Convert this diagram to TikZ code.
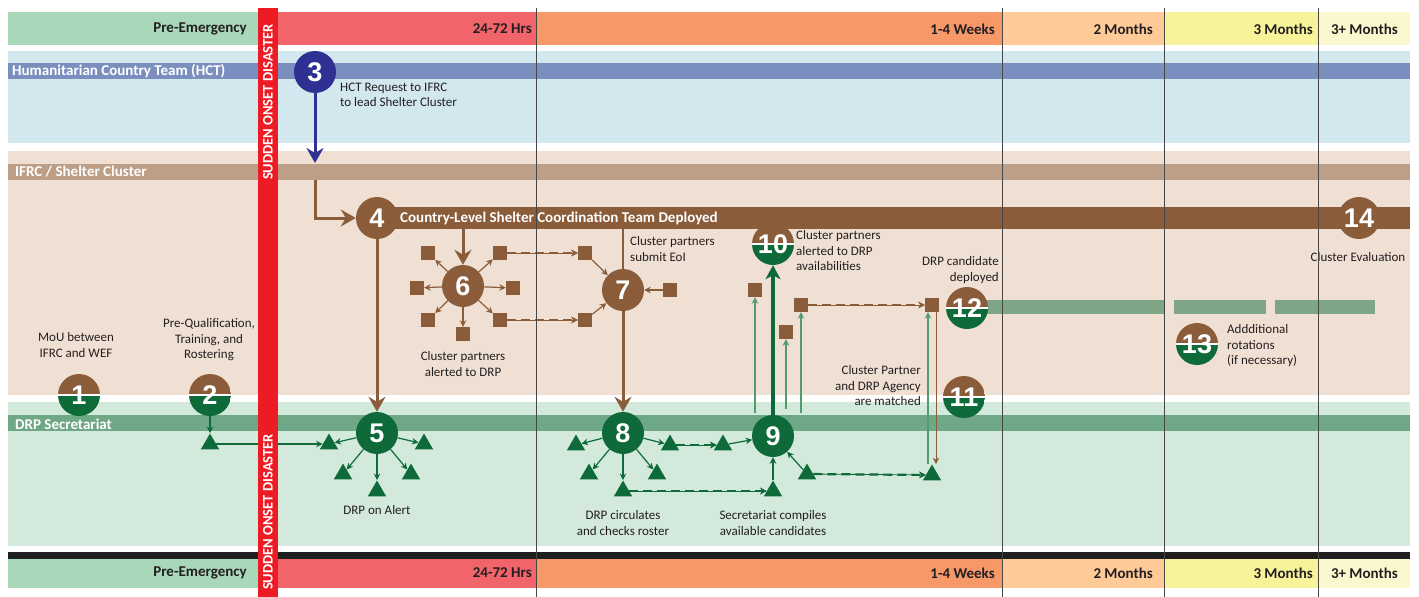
\documentclass[tikz,border=0pt]{standalone}
\usepackage{fontspec}
\setmainfont{Carlito}
\newfontfamily\numfont{Liberation Sans}
\usepackage{tikz}
\usetikzlibrary{positioning,arrows.meta,shapes.geometric,calc}
\definecolor{preem}{RGB}{168,216,185}
\definecolor{hrsred}{RGB}{240,100,106}
\definecolor{weeksor}{RGB}{247,152,104}
\definecolor{twomon}{RGB}{253,202,152}
\definecolor{threemon}{RGB}{247,243,154}
\definecolor{threeplus}{RGB}{251,248,208}
\definecolor{onsetred}{RGB}{237,28,36}
\definecolor{hctbg}{RGB}{211,231,239}
\definecolor{hctband}{RGB}{123,143,191}
\definecolor{ifrcbg}{RGB}{240,224,211}
\definecolor{ifrcband}{RGB}{189,159,135}
\definecolor{drpbg}{RGB}{210,233,220}
\definecolor{drpband}{RGB}{111,168,135}
\definecolor{brownc}{RGB}{138,92,58}
\definecolor{greenc}{RGB}{14,106,56}
\definecolor{bluec}{RGB}{46,49,146}
\definecolor{rotgreen}{RGB}{125,165,134}
\definecolor{lightg}{RGB}{80,156,110}
\definecolor{txtdark}{RGB}{35,31,32}
\definecolor{divider}{RGB}{70,70,70}
\tikzset{
  lanelabel/.style = {font=\fontsize{15}{18}\selectfont\bfseries, text=white, anchor=west, inner sep=0pt},
  hdrlabel/.style  = {font=\fontsize{15}{18}\selectfont\bfseries, text=txtdark, anchor=east, inner sep=0pt},
  onsetlabel/.style= {font=\fontsize{14.5}{17}\selectfont\bfseries, text=white, rotate=90, inner sep=0pt},
  numnode/.style   = {circle, minimum size=42pt, inner sep=0pt, text=white, font=\numfont\fontsize{27}{27}\selectfont\bfseries},
  brownnum/.style  = {numnode, fill=brownc},
  greennum/.style  = {numnode, fill=greenc},
  bluenum/.style   = {numnode, fill=bluec},
  splitnum/.style  = {numnode, path picture={
      \fill[brownc] (path picture bounding box.north west) rectangle (path picture bounding box.east);
      \fill[greenc] (path picture bounding box.west) rectangle (path picture bounding box.south east);
      \draw[white, line width=1.3pt] (path picture bounding box.west) -- (path picture bounding box.east);}},
  partner/.style   = {rectangle, fill=brownc, minimum size=14pt, inner sep=0pt},
  member/.style    = {regular polygon, regular polygon sides=3, fill=greenc, minimum size=21pt, inner sep=0pt},
  note/.style      = {font=\fontsize{13}{15.5}\selectfont, text=txtdark, align=center, inner sep=0pt},
  bflow/.style     = {-{Stealth[length=15pt,width=17pt,inset=5pt]}, line width=3pt, draw=brownc},
  blueflow/.style  = {-{Stealth[length=15pt,width=17pt,inset=5pt]}, line width=3pt, draw=bluec},
  gbig/.style      = {-{Stealth[length=14pt,width=15pt,inset=4pt]}, line width=4pt, draw=greenc},
  bthin/.style     = {-{Stealth[length=6.5pt,width=6.5pt]}, line width=1.2pt, draw=brownc},
  gthin/.style     = {-{Stealth[length=6.5pt,width=6.5pt]}, line width=1.2pt, draw=greenc},
  lgthin/.style    = {-{Stealth[length=6.5pt,width=6.5pt]}, line width=1.2pt, draw=lightg},
  bdash/.style     = {bthin, line width=2.2pt, dash pattern=on 9pt off 5pt, preaction={draw=brownc, line width=0.8pt, solid}},
  gdash/.style     = {gthin, line width=2.2pt, dash pattern=on 9pt off 5pt, preaction={draw=greenc, line width=0.8pt, solid}},
}

\begin{document}
\begin{tikzpicture}[x=1pt,y=-1pt]
  \useasboundingbox (0,0) rectangle (1419,597);
  \fill[hctbg] (8,51) rectangle (1410,143);
  \fill[hctband] (8,63) rectangle (1410,79);
  \fill[ifrcbg] (8,151) rectangle (1410,395);
  \fill[ifrcband] (8,164) rectangle (1410,180);
  \fill[drpbg] (8,402) rectangle (1410,546);
  \fill[drpband] (8,415) rectangle (1410,431);
  \fill[black!88] (8,552) rectangle (1410,559);
  \node[lanelabel] (hctlbl) at (12,71) {Humanitarian Country Team (HCT)};
  \node[lanelabel] (ifrclbl) at (15,172) {IFRC / Shelter Cluster};
  \node[lanelabel] (drplbl) at (15,424) {DRP Secretariat};

  \foreach \xa/\xb/\xt/\col/\txt [count=\i] in {8/258/247/preem/Pre-Emergency, 278/536/532/hrsred/24-72 Hrs,
      536/1002/995/weeksor/1-4 Weeks, 1002/1164/1153/twomon/2 Months, 1164/1318/1313/threemon/3 Months,
      1318/1410/1398/threeplus/3+ Months}{
    \fill[\col] (\xa,12) rectangle (\xb,45);
    \fill[\col] (\xa,559) rectangle (\xb,588);
    \node[hdrlabel] (top\i) at (\xt,29) {\txt};
    \node[hdrlabel] (bot\i) at (\xt,573) {\txt};
  }

  \fill[rotgreen] (985,300) rectangle (1164,314);
  \fill[rotgreen] (1174,300) rectangle (1266,314);
  \fill[rotgreen] (1275,300) rectangle (1375,314);
  \node[fill=brownc, minimum width=1033pt, minimum height=22pt, inner sep=0pt, anchor=west] (teambar) at (377,218) {};
  \node[lanelabel] (teamlbl) at (400,218) {Country-Level Shelter Coordination Team Deployed};

  \node[splitnum] (n1) at (79,395) {1};
  \node[splitnum] (n2) at (210,395) {2};
  \node[bluenum] (n3) at (315,72) {3};
  \node[brownnum] (n4) at (377,218) {4};
  \node[greennum] (n5) at (377,433) {5};
  \node[brownnum] (n6) at (463,286) {6};
  \node[brownnum] (n7) at (623,290) {7};
  \node[greennum] (n8) at (623,433) {8};
  \node[greennum] (n9) at (773,436) {9};
  \node[splitnum] (n10) at (773,244) {10};
  \node[splitnum] (n11) at (964,397) {11};
  \node[splitnum] (n12) at (967,308) {12};
  \node[splitnum] (n13) at (1197,344) {13};
  \node[brownnum] (n14) at (1359,218) {14};

  \node[note] (lbl1) at (76,345) {MoU between\\IFRC and WEF};
  \node[note] (lbl2) at (209,340) {Pre-Qualification,\\Training, and\\Rostering};
  \node[note, anchor=west, align=left] (lbl3) at (340,95) {HCT Request to IFRC\\to lead Shelter Cluster};
  \node[note] (lbl5) at (377,510) {DRP on Alert};
  \node[note] (lbl6) at (463,364) {Cluster partners\\alerted to DRP};
  \node[note, anchor=west, align=left] (lbl7) at (630,249) {Cluster partners\\submit EoI};
  \node[note] (lbl8) at (623,523) {DRP circulates\\and checks roster};
  \node[note] (lbl9) at (773,523) {Secretariat compiles\\available candidates};
  \node[note, anchor=west, align=left] (lbl10) at (796,251) {Cluster partners\\alerted to DRP\\availabilities};
  \node[note, anchor=east, align=right] (lbl11) at (921,386) {Cluster Partner\\and DRP Agency\\are matched};
  \node[note, anchor=east, align=right] (lbl12) at (999,270) {DRP candidate\\deployed};
  \node[note, anchor=west, align=left] (lbl13) at (1227,346) {Addditional\\rotations\\(if necessary)};
  \node[note] (lbl14) at (1358,257) {Cluster Evaluation};

  \node[partner] (p6ul) at (428,253) {};
  \node[partner] (p6ur) at (500,253) {};
  \node[partner] (p6l) at (417,288) {};
  \node[partner] (p6r) at (513,288) {};
  \node[partner] (p6ll) at (428,320) {};
  \node[partner] (p6lr) at (500,320) {};
  \node[partner] (p6b) at (463,334) {};
  \node[partner] (p7a) at (585,253) {};
  \node[partner] (p7b) at (585,320) {};
  \node[partner] (p7c) at (670,290) {};
  \node[partner] (p10a) at (755,290) {};
  \node[partner] (p10b) at (801,305) {};
  \node[partner] (p10c) at (786,332) {};
  \node[partner] (p12) at (932,305) {};

  \node[member] (t2) at (210,444) {};
  \node[member] (t5l) at (329,444) {};
  \node[member] (t5r) at (424,444) {};
  \node[member] (t5ll) at (343,474) {};
  \node[member] (t5lr) at (411,474) {};
  \node[member] (t5b) at (377,491) {};
  \node[member] (t8l) at (576,445) {};
  \node[member] (t8r) at (670,445) {};
  \node[member] (t8ll) at (589,474) {};
  \node[member] (t8lr) at (657,474) {};
  \node[member] (t8b) at (623,491) {};
  \node[member] (t8n) at (723,445) {};
  \node[member] (t9b) at (773,491) {};
  \node[member] (t9r) at (807,474) {};
  \node[member] (t11) at (932,475) {};

  \coordinate (hcttip) at (315,163);
  \coordinate (elbow) at (315,180);
  \coordinate (up1) at (755,413);
  \coordinate (up2) at (786,409);
  \coordinate (up3) at (801,413);

  \draw[blueflow] (n3) -- (hcttip);
  \draw[bflow] (elbow) |- (n4);
  \draw[bflow] (n4) -- (n5);
  \draw[bflow] (teambar.south -| n6) -- (n6);
  \draw[brownc, line width=2pt] (teambar.south -| n7) -- (n7);
  \draw[bflow] (n7) -- (n8);
  \foreach \s in {ul,ur,l,r,ll,lr,b}
    \draw[bthin] (n6) -- (p6\s);
  \draw[bdash] (p6ur) -- (p7a);
  \draw[bdash] (p6lr) -- (p7b);
  \draw[bthin] (p7a) -- (n7);
  \draw[bthin] (p7b) -- (n7);
  \draw[bthin] (p7c) -- (n7);

  \draw[gthin] (n2) -- (t2);
  \draw[gthin] (t2) -- (t5l);
  \foreach \s in {l,r,ll,lr,b}
    \draw[gthin] (n5) -- (t5\s);
  \foreach \s in {l,r,ll,lr,b}
    \draw[gthin] (n8) -- (t8\s);
  \draw[gdash] (t8r) -- (t8n);
  \draw[gthin] (t8n) -- (n9);
  \draw[gdash] (t8b) -- (t9b);
  \draw[gthin] (t9b) -- (n9);
  \draw[gthin] (t9r) -- (n9);
  \draw[gdash] (t9r) -- (t11);
  \draw[gbig] (n9) -- (n10);
  \draw[lgthin] (up1) -- (p10a);
  \draw[lgthin] (up2) -- (p10c);
  \draw[lgthin] (up3) -- (p10b);
  \draw[bdash] (p10b) -- (p12);
  \draw[lgthin] ([xshift=-4pt]t11.north) -- ([xshift=-4pt]p12.south);
  \draw[bthin, line width=1pt] ([xshift=4pt]p12.south) -- ([xshift=4pt]t11.north);

  \fill[onsetred] (258,8) rectangle (278,597);
  \node[onsetlabel] (onsettop) at (268,102) {SUDDEN ONSET DISASTER};
  \node[onsetlabel] (onsetbot) at (268,512) {SUDDEN ONSET DISASTER};
  \foreach \x in {536,1002,1164,1318}
    \draw[divider, line width=0.8pt] (\x,8) -- (\x,597);
\end{tikzpicture}
\end{document}
